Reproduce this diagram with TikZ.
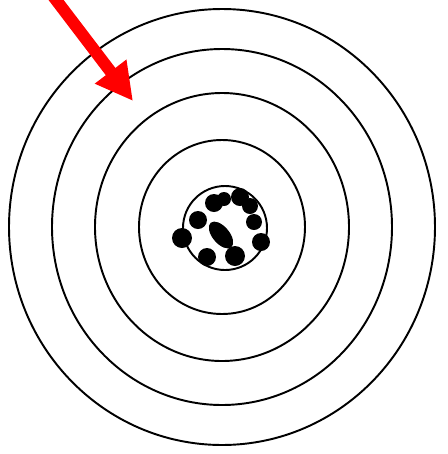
\documentclass[tikz,border=0pt]{standalone}
\usepackage{tikz,xcolor}
\usetikzlibrary{arrows.meta}

\tikzset{
    ring/.style={draw=black, line width=1.1pt},
    shot/.style={fill=black},
}

\begin{document}
\begin{tikzpicture}[x=0.02cm, y=-0.02cm]

        % Frame
        \useasboundingbox (0,0) rectangle (448,454);

        % Rings of the target
        \coordinate (centre) at (222,227);
        \draw[ring] (centre) ellipse (213 and 218);
        \draw[ring] (centre) ellipse (170 and 178);
        \draw[ring] (centre) ellipse (127 and 134);
        \draw[ring] (centre) ellipse (83 and 87);
        \draw[ring] (225,228) circle (42);

        % Shots in the middle
        \foreach \px/\py/\r in {182/238/10, 198/220/9, 214/203/9, 224/199/7, 240/197/9,
                                250/206/8, 254/222/8, 261/242/9,
                                207/257/9, 235/256/10}
            \fill[shot] (\px,\py) circle (\r);
        \fill[shot, rotate around={-50:(221,235)}] (221,235) ellipse (16 and 8.5);

        % Arrow into the target
        \coordinate (tail) at (50,-8);
        \coordinate (tip) at (133,101);
        \draw[-{Triangle[length=0.74cm, width=0.74cm]}, red, line width=0.24cm] (tail) -- (tip);

    \end{tikzpicture}
\end{document}
